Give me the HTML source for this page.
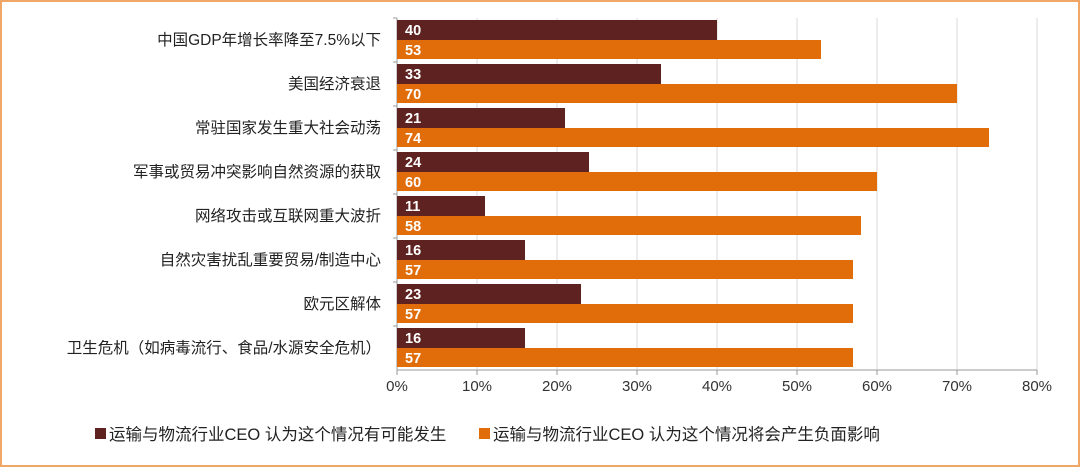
<!DOCTYPE html>
<html><head><meta charset="utf-8"><style>
html,body{margin:0;padding:0;background:#fff}
#wrap{position:relative;width:1080px;height:467px;box-sizing:border-box;border:2px solid #f0a766;background:#fff}
svg{position:absolute;left:-2px;top:-2px}
text{font-family:"Liberation Sans","Noto Sans CJK SC",sans-serif}
</style></head><body>
<div id="wrap">
<svg id="c" width="1080" height="467"></svg>
</div>
<script>
const categories=["中国GDP年增长率降至7.5%以下","美国经济衰退","常驻国家发生重大社会动荡","军事或贸易冲突影响自然资源的获取","网络攻击或互联网重大波折","自然灾害扰乱重要贸易/制造中心","欧元区解体","卫生危机（如病毒流行、食品/水源安全危机）"];
const likely=[40,33,21,24,11,16,23,16];
const negative=[53,70,74,60,58,57,57,57];
const ticks=[0,10,20,30,40,50,60,70,80];
const svg=document.getElementById('c');const NS='http://www.w3.org/2000/svg';
function mk(t,a,p){const e=document.createElementNS(NS,t);for(const k in a)e.setAttribute(k,a[k]);(p||svg).appendChild(e);return e;}
const x0=397,ppu=8,yTop=18,band=44,bh=20;
const X=v=>x0+v*ppu;const Y=i=>yTop+i*band;
ticks.forEach(t=>{
 if(t>0){const g=mk('line',{x1:X(t),x2:X(t),y1:yTop,y2:yTop+band*8,stroke:'#d9d9d9','stroke-width':1});
 
 }
 const tk=mk('line',{x1:X(t),x2:X(t),y1:yTop+band*8,y2:yTop+band*8+5,stroke:'#999'});
 
 
 const l=mk('text',{x:X(t),y:391,'text-anchor':'middle','font-size':15,fill:'#333'});l.textContent=t+'%';
 
 
});
const ax=mk('line',{x1:x0,x2:x0,y1:yTop,y2:yTop+band*8,stroke:'#999'});


const bx=mk('line',{x1:x0,x2:X(80),y1:yTop+band*8,y2:yTop+band*8,stroke:'#999'});


categories.forEach((c,i)=>{
 const yt=mk('line',{x1:x0-4,x2:x0,y1:Y(i),y2:Y(i),stroke:'#999'});
 
 
 const l=mk('text',{x:381,y:Y(i)+band/2+5,'text-anchor':'end','font-size':15.5,fill:'#222'});l.textContent=c;
 
 
 [[likely,'#5e2320',2],[negative,'#e06c0a',2+bh]].forEach(([arr,col,off],s)=>{
  const r=mk('rect',{x:x0,y:Y(i)+off,width:arr[i]*ppu,height:bh-(s?1:0),fill:col});
  
  
  const v=mk('text',{x:x0+8,y:Y(i)+off+15,'font-size':14.5,'font-weight':'bold',fill:'#fff'});v.textContent=arr[i];
  
  
 });
});
const legend=[["运输与物流行业CEO 认为这个情况有可能发生",'#5e2320',95],["运输与物流行业CEO 认为这个情况将会产生负面影响",'#e06c0a',479]];
legend.forEach(([t,c,x])=>{
 const g=mk('g',{});
 
 
 mk('rect',{x:x,y:428,width:11,height:11,fill:c},g);
 const tx=mk('text',{x:x+14,y:440,'font-size':16.5,fill:'#222'},g);tx.textContent=t;
});
</script>
</body></html>
